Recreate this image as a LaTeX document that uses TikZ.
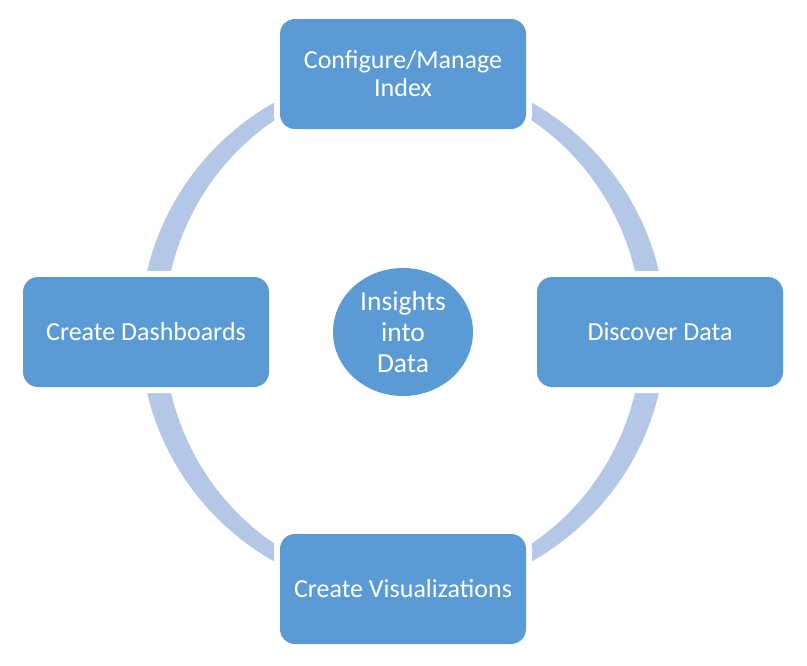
\documentclass[tikz,border=0pt]{standalone}
\usepackage{fontspec}
\setmainfont{Carlito}
\usepackage{tikz}
\usetikzlibrary{shapes.geometric, positioning}
\definecolor{stepcolor}{RGB}{91,155,213}
\definecolor{ringcolor}{RGB}{180,199,231}

\begin{document}
\begin{tikzpicture}[
    x=1pt, y=-1pt,
    stepbox/.style={fill=stepcolor, rounded corners=15pt, minimum width=246pt, minimum height=110pt,
        inner sep=0pt, align=center, text=white, font=\fontsize{26}{28}\selectfont,
        preaction={draw=white, line width=12pt}},
    hub/.style={ellipse, fill=stepcolor, minimum width=140pt, minimum height=128pt,
        inner sep=0pt, align=center, text=white, font=\fontsize{27.5}{31}\selectfont}
]
    \useasboundingbox (0,0) rectangle (807,665);

    % Ring
    \fill[ringcolor, even odd rule] (403,332) circle (263pt) (403,332) ellipse (239pt and 251pt);

    % Steps
    \node[stepbox] (config) at (403,74) {Configure/Manage\\Index};
    \node[stepbox] (discover) at (660,332) {Discover Data};
    \node[stepbox] (visual) at (403,589) {Create Visualizations};
    \node[stepbox] (dashboards) at (146,332) {Create Dashboards};

    % Centre
    \node[hub] (insights) at (403,332) {Insights\\into\\Data};
\end{tikzpicture}
\end{document}
